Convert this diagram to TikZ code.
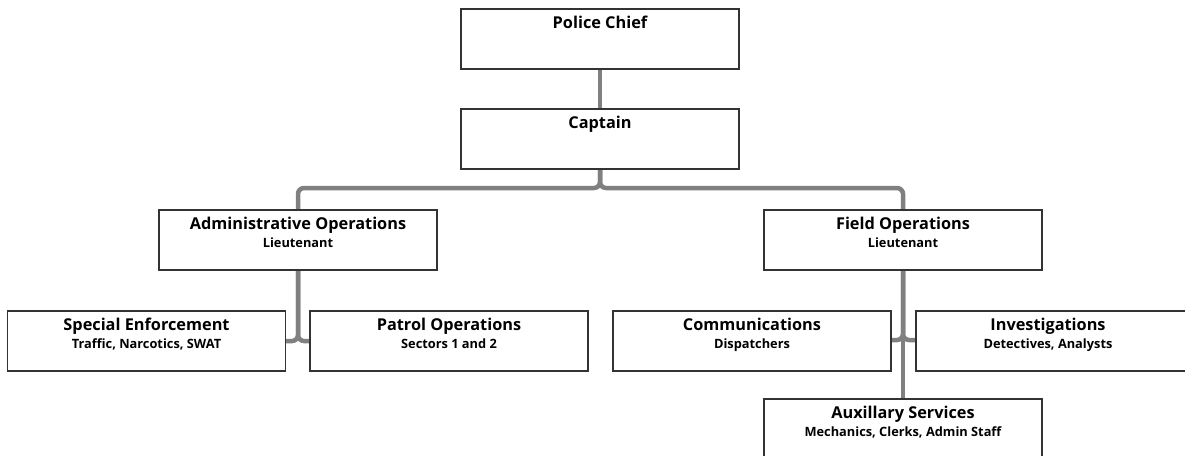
\documentclass[tikz,border=0pt]{standalone}
\usepackage{fontspec}
\setmainfont{Open Sans}
\usetikzlibrary{positioning}

\tikzset{
	unit/.style={draw=black!80,line width=1.2pt,fill=white,minimum width=278pt,minimum height=60pt,inner sep=0pt},
	title/.style={font=\fontsize{16.3}{18}\selectfont\bfseries,inner sep=0pt,anchor=base},
	duty/.style={font=\fontsize{12.8}{14}\selectfont\bfseries,inner sep=0pt,anchor=base},
	link/.style={draw=black!50,line width=4.5pt,rounded corners=6pt}
}

\begin{document}
\begin{tikzpicture}[x=1pt,y=-1pt]
		\useasboundingbox (0,0) rectangle (1185,455);
		
		% connectors first, boxes on top
		\coordinate (chiefpos) at (600,39);
		\coordinate (captainpos) at (600,139);
		\coordinate (adminpos) at (298,240);
		\coordinate (fieldpos) at (903,240);
		
		\draw[link] (chiefpos) -- (captainpos);
		\draw[link] (captainpos) -- ++(0,49) -| (adminpos);
		\draw[link] (captainpos) -- ++(0,49) -| (fieldpos);
		\draw[link] (adminpos) |- (146,341);
		\draw[link] (adminpos) |- (449,341);
		\draw[link] (fieldpos) |- (752,340);
		\draw[link] (fieldpos) |- (1050,340);
		\draw[link] (fieldpos) -- (903,430);
		
		\node[unit] (chief) at (chiefpos) {};
		\node[title] (chiefT) at ([yshift=-20pt]chief.north) {Police Chief};
		
		\node[unit] (captain) at (captainpos) {};
		\node[title] (captainT) at ([yshift=-20pt]captain.north) {Captain};
		
		\node[unit] (admin) at (adminpos) {};
		\node[title] (adminT) at ([yshift=-20pt]admin.north) {Administrative Operations};
		\node[duty] (adminD) at ([yshift=-38pt]admin.north) {Lieutenant};
		
		\node[unit] (field) at (fieldpos) {};
		\node[title] (fieldT) at ([yshift=-20pt]field.north) {Field Operations};
		\node[duty] (fieldD) at ([yshift=-38pt]field.north) {Lieutenant};
		
		\node[unit] (special) at (146.5,341) {};
		\node[title] (specialT) at ([yshift=-20pt]special.north) {Special Enforcement};
		\node[duty] (specialD) at ([yshift=-38pt]special.north) {Traffic, Narcotics, SWAT};
		
		\node[unit] (patrol) at (449,341) {};
		\node[title] (patrolT) at ([yshift=-20pt]patrol.north) {Patrol Operations};
		\node[duty] (patrolD) at ([yshift=-38pt]patrol.north) {Sectors 1 and 2};
		
		\node[unit] (comm) at (752,341) {};
		\node[title] (commT) at ([yshift=-20pt]comm.north) {Communications};
		\node[duty] (commD) at ([yshift=-38pt]comm.north) {Dispatchers};
		
		\node[unit] (invest) at (1055,341) {};
		\node[title] (investT) at ([xshift=-7pt,yshift=-20pt]invest.north) {Investigations};
		\node[duty] (investD) at ([xshift=-7pt,yshift=-38pt]invest.north) {Detectives, Analysts};
		
		\node[unit] (aux) at (903,429) {};
		\node[title] (auxT) at ([yshift=-20pt]aux.north) {Auxillary Services};
		\node[duty] (auxD) at ([yshift=-38pt]aux.north) {Mechanics, Clerks, Admin Staff};
	\end{tikzpicture}
\end{document}
